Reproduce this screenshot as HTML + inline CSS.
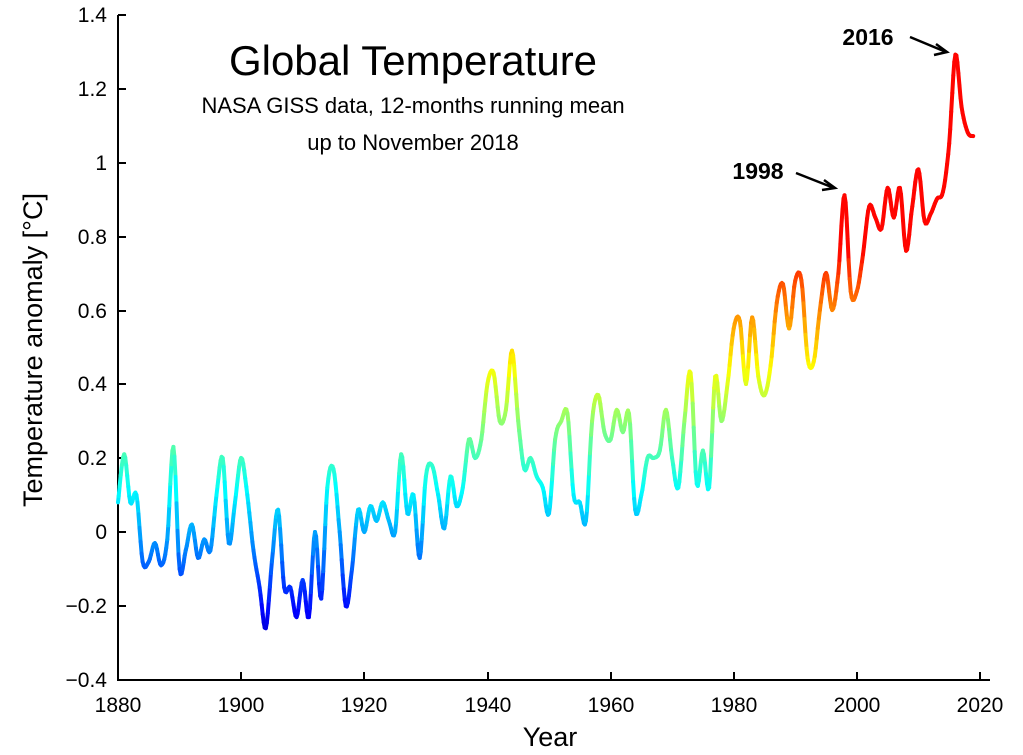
<!DOCTYPE html>
<html><head><meta charset="utf-8"><style>
html,body{margin:0;padding:0;background:#fff;}
svg{display:block;font-family:"Liberation Sans",sans-serif;}
</style></head><body>
<svg id="s" width="1023" height="755" viewBox="0 0 1023 755">
<g stroke="#000" stroke-width="2" fill="none">
<path d="M118,15 V680 H990"/>
<path d="M118,15h8M118,89h8M118,163h8M118,237h8M118,311h8M118,384h8M118,458h8M118,532h8M118,606h8"/>
<path d="M241,680v-8M364,680v-8M488,680v-8M611,680v-8M734,680v-8M857,680v-8M980,680v-8"/>
</g>
<g font-size="21" fill="#000" text-anchor="end">
<text x="107" y="22">1.4</text><text x="107" y="96">1.2</text><text x="107" y="170">1</text>
<text x="107" y="244">0.8</text><text x="107" y="318">0.6</text><text x="107" y="391">0.4</text>
<text x="107" y="465">0.2</text><text x="107" y="539">0</text><text x="107" y="613">−0.2</text>
<text x="107" y="687">−0.4</text>
</g>
<g font-size="21" fill="#000" text-anchor="middle">
<text x="118" y="712">1880</text><text x="241" y="712">1900</text><text x="364" y="712">1920</text>
<text x="488" y="712">1940</text><text x="611" y="712">1960</text><text x="734" y="712">1980</text>
<text x="857" y="712">2000</text><text x="980" y="712">2020</text>
</g>
<text x="550" y="746" font-size="27" text-anchor="middle">Year</text>
<text transform="translate(42,350) rotate(-90)" font-size="27" text-anchor="middle">Temperature anomaly [°C]</text>
<text x="413" y="75" font-size="42" text-anchor="middle">Global Temperature</text>
<text x="413" y="113" font-size="22" text-anchor="middle">NASA GISS data, 12-months running mean</text>
<text x="413" y="150" font-size="22" text-anchor="middle">up to November 2018</text>
<text x="758" y="179" font-size="23" font-weight="bold" text-anchor="middle">1998</text>
<text x="868" y="45" font-size="23" font-weight="bold" text-anchor="middle">2016</text>
<g stroke="#000" stroke-width="2.5" fill="none">
<path d="M796,173 L834,188 M824,180 L835,188 L822,190"/>
<path d="M910,37 L946,52 M936,44 L947,52 L934,55"/>
</g>
<g id="line"></g>
</svg>
<script>
var d=[[1880,0.08],[1881,0.21],[1882,0.08],[1883,0.1],[1884,-0.08],[1885,-0.08],[1886,-0.03],[1887,-0.09],[1888,-0.02],[1889,0.23],[1890,-0.1],[1891,-0.05],[1892,0.02],[1893,-0.07],[1894,-0.02],[1895,-0.05],[1896,0.1],[1897,0.2],[1898,-0.03],[1899,0.08],[1900,0.2],[1901,0.1],[1902,-0.05],[1903,-0.15],[1904,-0.26],[1905,-0.08],[1906,0.06],[1907,-0.15],[1908,-0.15],[1909,-0.23],[1910,-0.13],[1911,-0.23],[1912,0.0],[1913,-0.18],[1914,0.12],[1915,0.17],[1916,0.0],[1917,-0.2],[1918,-0.1],[1919,0.06],[1920,0.0],[1921,0.07],[1922,0.03],[1923,0.08],[1924,0.03],[1925,0.0],[1926,0.21],[1927,0.05],[1928,0.1],[1929,-0.07],[1930,0.15],[1931,0.18],[1932,0.1],[1933,0.01],[1934,0.15],[1935,0.07],[1936,0.12],[1937,0.25],[1938,0.2],[1939,0.25],[1940,0.4],[1941,0.43],[1942,0.3],[1943,0.33],[1944,0.49],[1945,0.3],[1946,0.17],[1947,0.2],[1948,0.15],[1949,0.12],[1950,0.05],[1951,0.25],[1952,0.3],[1953,0.32],[1954,0.1],[1955,0.08],[1956,0.03],[1957,0.3],[1958,0.37],[1959,0.27],[1960,0.25],[1961,0.33],[1962,0.27],[1963,0.32],[1964,0.06],[1965,0.1],[1966,0.2],[1967,0.2],[1968,0.22],[1969,0.33],[1970,0.2],[1971,0.12],[1972,0.3],[1973,0.43],[1974,0.13],[1975,0.22],[1976,0.12],[1977,0.42],[1978,0.3],[1979,0.4],[1980,0.55],[1981,0.57],[1982,0.4],[1983,0.58],[1984,0.42],[1985,0.37],[1986,0.45],[1987,0.62],[1988,0.67],[1989,0.55],[1990,0.68],[1991,0.68],[1992,0.47],[1993,0.46],[1994,0.6],[1995,0.7],[1996,0.6],[1997,0.7],[1998,0.91],[1999,0.65],[2000,0.65],[2001,0.75],[2002,0.88],[2003,0.85],[2004,0.82],[2005,0.93],[2006,0.85],[2007,0.93],[2008,0.76],[2009,0.88],[2010,0.98],[2011,0.84],[2012,0.86],[2013,0.9],[2014,0.92],[2015,1.05],[2016,1.29],[2017,1.15],[2018,1.08],[2018.9,1.07]];
function X(y){return 118+(y-1880)*6.157;}
function Y(v){return 532-v*370;}
function jet(t){t=Math.max(0,Math.min(0.87,t));
function c(x){return Math.round(255*Math.max(0,Math.min(1,1.5-Math.abs(4*t-x))));}
return "rgb("+c(3)+","+c(2)+","+c(1)+")";}
var pts=[];
for(var i=0;i<d.length-1;i++){var p0=d[Math.max(0,i-1)],p1=d[i],p2=d[i+1],p3=d[Math.min(d.length-1,i+2)];
for(var k=0;k<6;k++){var t=k/6,t2=t*t,t3=t2*t;
function cr(a,b,c2,e){return 0.5*((2*b)+(-a+c2)*t+(2*a-5*b+4*c2-e)*t2+(-a+3*b-3*c2+e)*t3);}
pts.push([cr(p0[0],p1[0],p2[0],p3[0]),cr(p0[1],p1[1],p2[1],p3[1])]);}}
pts.push(d[d.length-1]);
var h="";
for(var i=0;i<pts.length-1;i++){var v=(pts[i][1]+pts[i+1][1])/2;
h+='<line x1="'+X(pts[i][0]).toFixed(1)+'" y1="'+Y(pts[i][1]).toFixed(1)+'" x2="'+X(pts[i+1][0]).toFixed(1)+'" y2="'+Y(pts[i+1][1]).toFixed(1)+'" stroke="'+jet((v+0.38)/1.32)+'" stroke-width="4" stroke-linecap="round"/>';}
document.getElementById("line").innerHTML=h;
</script>
</body></html>
